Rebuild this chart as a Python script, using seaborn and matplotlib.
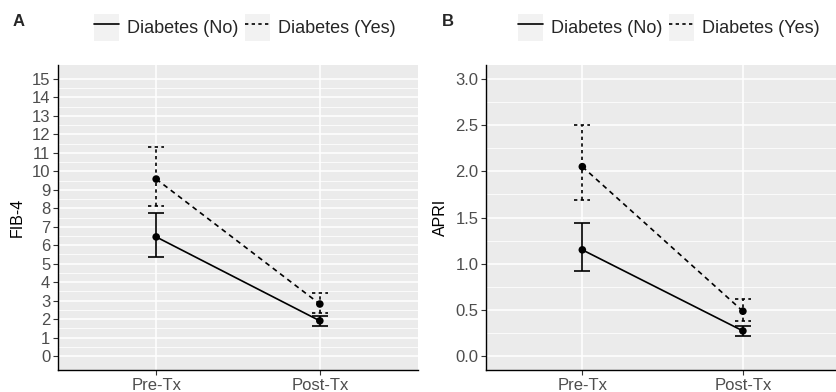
import numpy as np
import pandas as pd
import matplotlib
matplotlib.use("Agg")
import matplotlib.pyplot as plt
import seaborn as sns
from matplotlib.lines import Line2D
from matplotlib.patches import Rectangle
from matplotlib.legend_handler import HandlerLine2D

# data (mean and error bar ends)
timepoints = ["Pre-Tx", "Post-Tx"]
groups = ["Diabetes (No)", "Diabetes (Yes)"]

fib4_no = [6.45, 1.91]
fib4_no_lo = [5.38, 1.63]
fib4_no_hi = [7.75, 2.18]
fib4_yes = [9.58, 2.82]
fib4_yes_lo = [8.13, 2.35]
fib4_yes_hi = [11.31, 3.41]

apri_no = [1.15, 0.273]
apri_no_lo = [0.921, 0.223]
apri_no_hi = [1.436, 0.327]
apri_yes = [2.05, 0.486]
apri_yes_lo = [1.685, 0.385]
apri_yes_hi = [2.50, 0.616]

sns.set_theme(style="darkgrid", rc={
    "axes.facecolor": "#EBEBEB",
    "grid.color": "white",
    "axes.edgecolor": "black",
})
plt.rcParams['font.family'] = ['Liberation Sans', 'DejaVu Sans']


class KeyHandler(HandlerLine2D):
    # ggplot-like grey key box behind the line sample
    def create_artists(self, legend, orig_handle, xdescent, ydescent,
                       width, height, fontsize, trans):
        arts = super().create_artists(legend, orig_handle, xdescent, ydescent,
                                      width, height, fontsize, trans)
        box = Rectangle((-xdescent, -ydescent), width, height,
                        facecolor="#F2F2F2", edgecolor="none", transform=trans)
        return [box] + arts


def make_df(no, yes):
    return pd.DataFrame({
        "Time": timepoints * 2,
        "Value": list(no) + list(yes),
        "Diabetes": [groups[0]] * 2 + [groups[1]] * 2,
    })


def draw_panel(ax, no, no_lo, no_hi, yes, yes_lo, yes_hi, ylabel, yticks,
               ylim, minor, xlim, letter, leg_x):
    df = make_df(no, yes)
    sns.lineplot(data=df, x="Time", y="Value", style="Diabetes",
                 dashes={groups[0]: "", groups[1]: (3, 2.5)},
                 color="black", lw=1.2, legend=False, ax=ax, zorder=3)
    sns.scatterplot(data=df, x="Time", y="Value", color="black", s=30,
                    edgecolor="none", legend=False, ax=ax, zorder=4)
    xs = np.arange(len(timepoints))
    for lo, hi, ls in [(no_lo, no_hi, "solid"), (yes_lo, yes_hi, (0, (2, 2)))]:
        ax.vlines(xs, lo, hi, colors="black", linestyles=ls, lw=1.2, zorder=2)
        ax.hlines(lo, xs - 0.05, xs + 0.05, colors="black", linestyles=ls, lw=1.2, zorder=2)
        ax.hlines(hi, xs - 0.05, xs + 0.05, colors="black", linestyles=ls, lw=1.2, zorder=2)

    ax.set_xlim(*xlim)
    ax.set_ylim(*ylim)
    ax.set_yticks(yticks)
    ax.set_yticks(minor, minor=True)
    ax.grid(True, which="major", color="white", lw=1.1)
    ax.grid(True, which="minor", axis="y", color="white", lw=0.55)
    ax.set_xlabel("")
    ax.set_ylabel(ylabel, fontsize=11.5, color="black", labelpad=5)
    ax.tick_params(axis="both", labelsize=12, labelcolor="#4D4D4D",
                   length=3.5, width=0.8, color="#333333", pad=2,
                   left=True, bottom=True)
    for side in ["top", "right"]:
        ax.spines[side].set_visible(False)
    for side in ["left", "bottom"]:
        ax.spines[side].set_visible(True)
        ax.spines[side].set_color("black")
        ax.spines[side].set_linewidth(1.0)

    handles = [Line2D([], [], color="black", lw=1.2),
               Line2D([], [], color="black", lw=1.2, dashes=(2, 2))]
    ax.legend(handles, groups, loc="lower center", bbox_to_anchor=(leg_x, 1.055),
              ncol=2, frameon=False, fontsize=13, handlelength=1.4,
              handleheight=1.9, handletextpad=0.45, columnspacing=0.35,
              borderaxespad=0, handler_map={Line2D: KeyHandler()})
    ax.text(-0.126, 1.141, letter, transform=ax.transAxes, fontsize=12,
            fontweight="bold", ha="left", va="center")


fig = plt.figure(figsize=(8.37, 3.92), dpi=100)
ax1 = fig.add_axes([58 / 837, 22 / 392, 360 / 837, 305 / 392])
ax2 = fig.add_axes([486 / 837, 22 / 392, 350 / 837, 305 / 392])

draw_panel(ax1, fib4_no, fib4_no_lo, fib4_no_hi, fib4_yes, fib4_yes_lo, fib4_yes_hi,
           "FIB-4", np.arange(0, 16, 1), (-0.75, 15.75), np.arange(0.5, 15, 1),
           (-0.6, 1.6), "A", 0.519)
draw_panel(ax2, apri_no, apri_no_lo, apri_no_hi, apri_yes, apri_yes_lo, apri_yes_hi,
           "APRI", np.arange(0, 3.01, 0.5), (-0.15, 3.15), np.arange(0.25, 3, 0.5),
           (-0.6, 1.58), "B", 0.523)
ax2.yaxis.set_major_formatter(matplotlib.ticker.FormatStrFormatter("%.1f"))

fig.savefig("out.png", dpi=100)
